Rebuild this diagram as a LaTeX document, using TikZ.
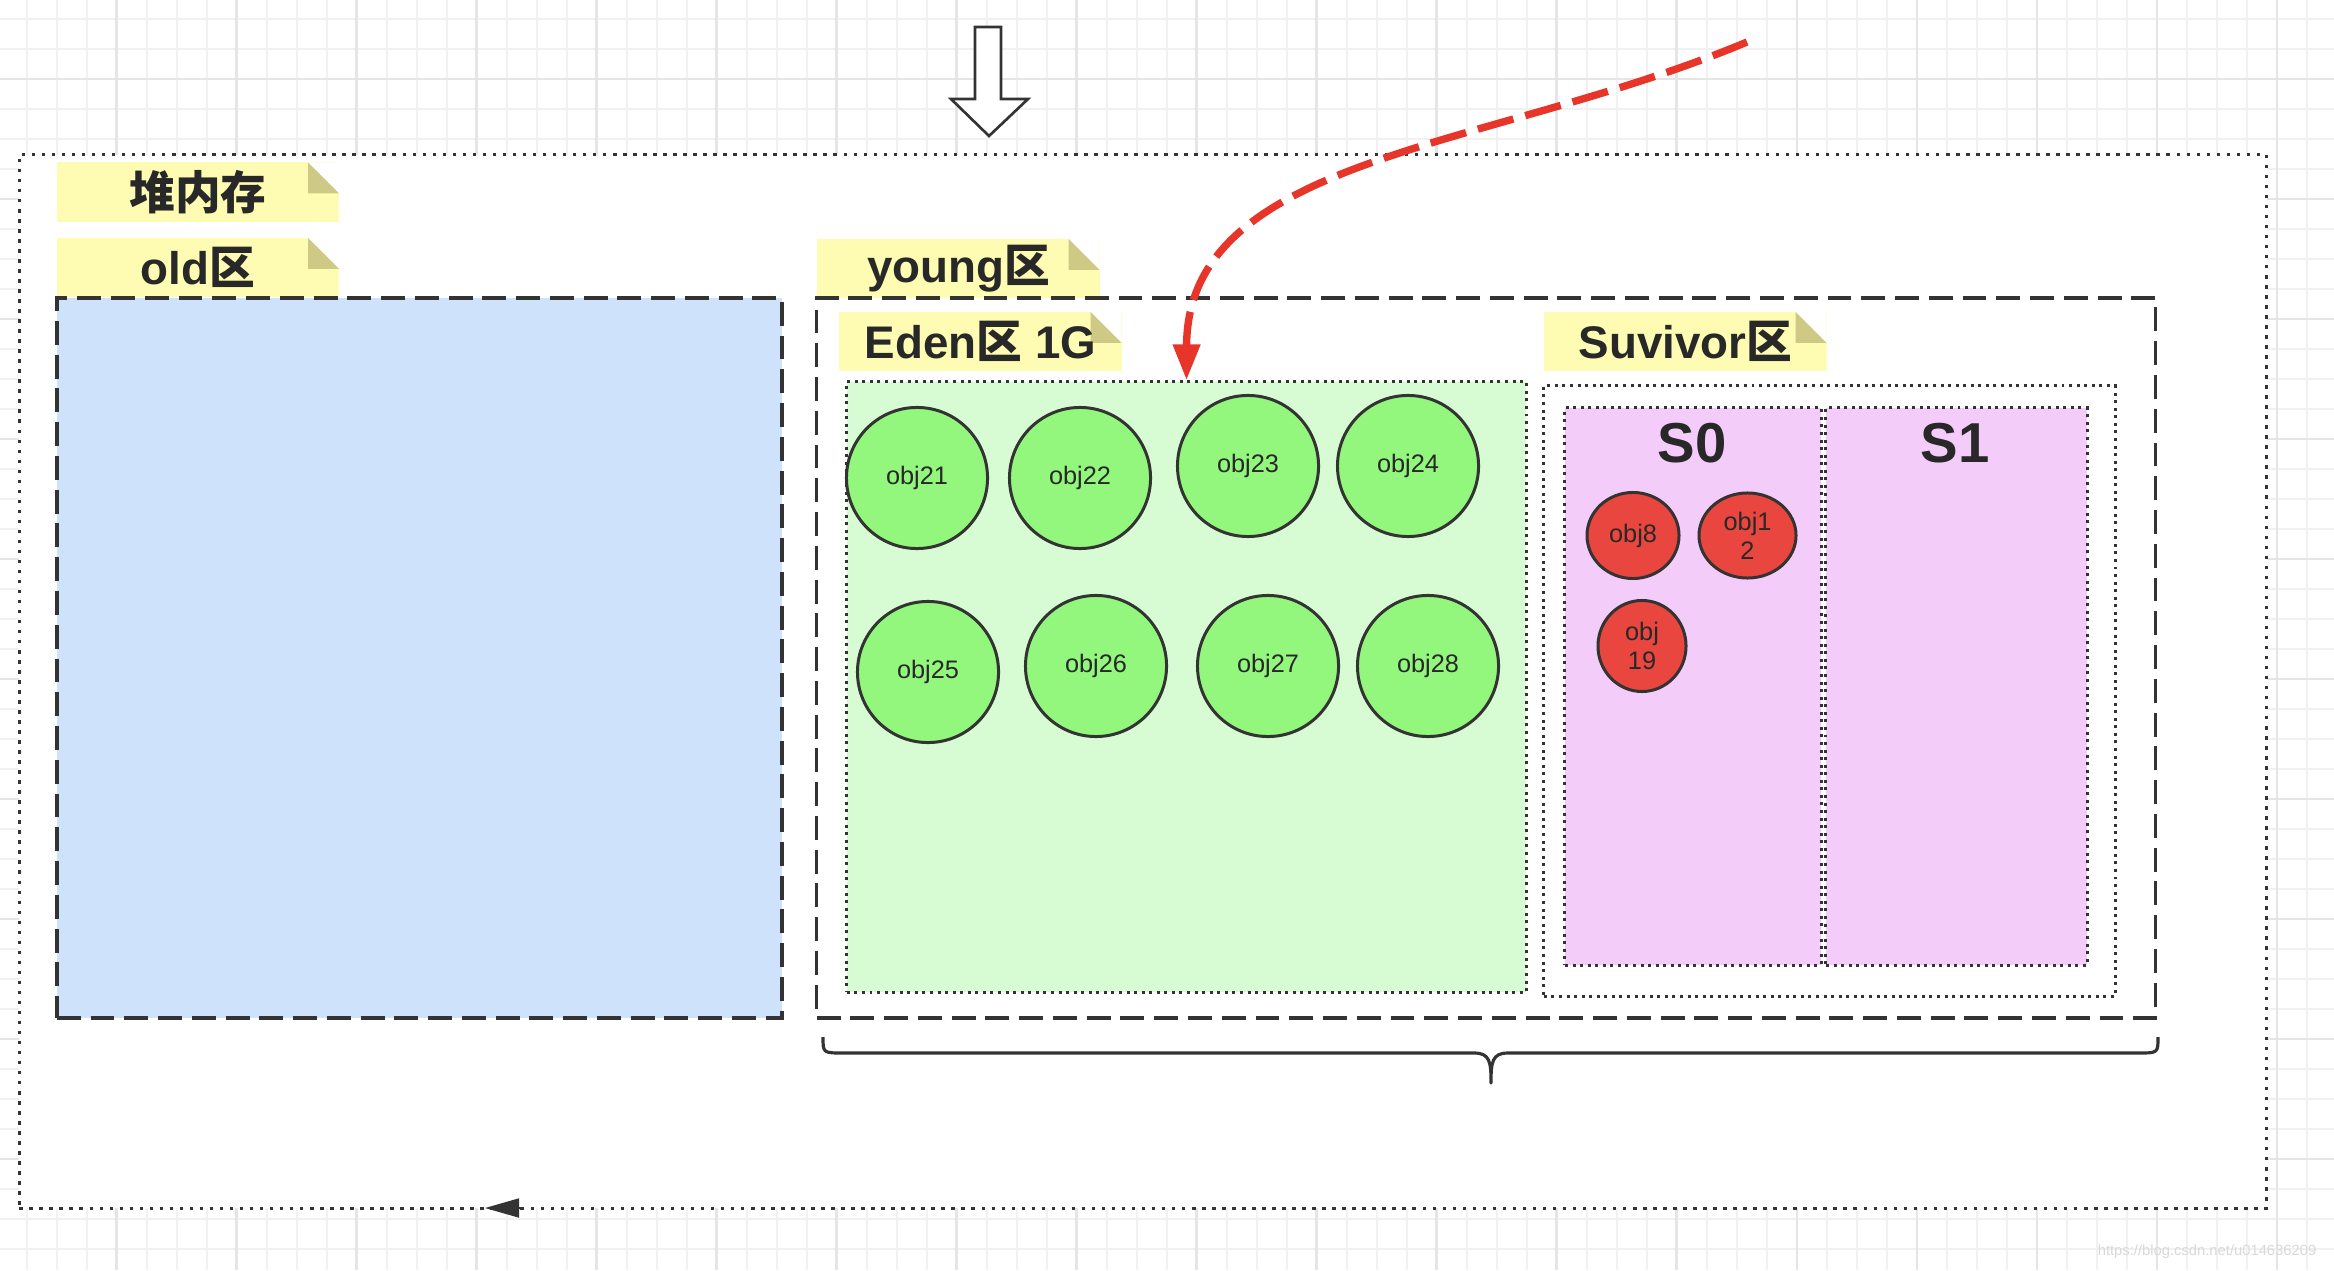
\documentclass[tikz,border=0pt]{standalone}
\usepackage{fontspec}
\setmainfont{Liberation Sans}
\newfontfamily\cjk{Noto Sans CJK SC}
\usetikzlibrary{arrows.meta,shapes.geometric}
\definecolor{linegray}{RGB}{51,51,51}
\definecolor{txt}{RGB}{40,40,40}
\definecolor{notey}{RGB}{253,252,178}
\definecolor{foldy}{RGB}{206,202,133}
\definecolor{oldblue}{RGB}{207,226,251}
\definecolor{edengreen}{RGB}{215,251,210}
\definecolor{surpink}{RGB}{244,204,249}
\definecolor{objgreen}{RGB}{146,247,124}
\definecolor{objred}{RGB}{232,70,62}
\definecolor{promred}{RGB}{232,53,42}
\definecolor{minorgrid}{RGB}{241,241,241}
\definecolor{majorgrid}{RGB}{229,229,229}

\begin{document}
\begin{tikzpicture}[x=0.01cm,y=-0.01cm]
	\tikzstyle{minor line}=[minorgrid,line width=0.5pt]
	\tikzstyle{major line}=[majorgrid,line width=0.7pt]
	\tikzstyle{heapbox}=[draw=linegray,fill=white,line width=1pt,dash pattern=on 1pt off 1.85pt,inner sep=0pt]
	\tikzstyle{genbox}=[draw=linegray,line width=1pt,dash pattern=on 6.8pt off 2.8pt,inner sep=0pt]
	\tikzstyle{spacebox}=[draw=linegray,line width=0.85pt,dash pattern=on 0.85pt off 1.3pt,inner sep=0pt]
	\tikzstyle{note}=[fill=notey,minimum width=2.82cm,minimum height=0.59cm,inner sep=0pt,text=txt,
		font=\fontsize{13}{15}\selectfont\bfseries,
		path picture={
			\fill[white] (path picture bounding box.north east) -- ++(-31,0) -- ++(31,31) -- cycle;
			\fill[foldy] (path picture bounding box.north east) ++(-31,0) -- ++(0,31) -- ++(31,0) -- cycle;
		}]
	\tikzstyle{youngobj}=[circle,draw=linegray,line width=0.85pt,fill=objgreen,minimum size=1.41cm,inner sep=0pt,text=txt,font=\fontsize{7.2}{8.3}\selectfont]
	\tikzstyle{oldobj}=[ellipse,draw=linegray,line width=0.85pt,fill=objred,inner sep=0pt,align=center,text=txt,font=\fontsize{7.2}{8.3}\selectfont]
	\tikzstyle{spacename}=[text=txt,font=\fontsize{16}{18}\selectfont\bfseries]
	\tikzstyle{promote}=[promred,line width=2.1pt,dash pattern=on 10.5pt off 3.5pt,-{Triangle[length=0.36cm,width=0.26cm]}]

	\useasboundingbox (0,0) rectangle (2334,1270);
	\fill[white] (0,0) rectangle (2334,1270);

	% background grid
	\foreach \i in {0,...,77} \draw[minor line] ({26.7+30*\i},0) -- ++(0,1270);
	\foreach \i in {0,...,42} \draw[minor line] (0,{19+30*\i}) -- ++(2334,0);
	\foreach \i in {0,...,18} \draw[major line] ({116.7+120*\i},0) -- ++(0,1270);
	\foreach \i in {0,...,9} \draw[major line] (0,{79+120*\i}) -- ++(2334,0);

	% heap
	\node[heapbox,minimum width=22.46cm,minimum height=10.53cm](heap) at (1143,681.5) {};
	\node[note](heapnote) at (198,192) {\cjk 堆内存};

	% old generation
	\node[note](oldnote) at (198,267.5) {old{\cjk 区}};
	\node[genbox,fill=oldblue,minimum width=7.25cm,minimum height=7.2cm](old) at (419.5,658) {};

	% young generation
	\node[note](youngnote) at (958.5,268.5) {young{\cjk 区}};
	\node[genbox,fill=white,minimum width=13.38cm,minimum height=7.2cm](young) at (1486,658) {};
	\node[note](edennote) at (980.5,341.5) {Eden{\cjk 区} 1G};
	\node[spacebox,fill=edengreen,minimum width=6.79cm,minimum height=6.1cm](eden) at (1186.5,687) {};
	\node[note](survnote) at (1685.5,341.5) {Suvivor{\cjk 区}};
	\node[spacebox,fill=white,minimum width=5.71cm,minimum height=6.1cm](surv) at (1829.5,691) {};
	\node[spacebox,fill=surpink,minimum width=2.56cm,minimum height=5.57cm](s0) at (1693,686.5) {};
	\node[spacebox,fill=surpink,minimum width=2.61cm,minimum height=5.57cm](s1) at (1956.5,686.5) {};
	\node[spacename](s0name) at (1692,443) {S0};
	\node[spacename](s1name) at (1955,443) {S1};

	% objects in eden
	\node[youngobj](o21) at (917,478) {obj21};
	\node[youngobj](o22) at (1080,478) {obj22};
	\node[youngobj](o23) at (1248,466) {obj23};
	\node[youngobj](o24) at (1408,466) {obj24};
	\node[youngobj](o25) at (928,672) {obj25};
	\node[youngobj](o26) at (1096,666) {obj26};
	\node[youngobj](o27) at (1268,666) {obj27};
	\node[youngobj](o28) at (1428,666) {obj28};

	% objects in S0
	\node[oldobj,minimum width=0.92cm,minimum height=0.86cm](o8) at (1633,535.5) {obj8};
	\node[oldobj,minimum width=0.97cm,minimum height=0.85cm](o12) at (1747.5,535.5) {obj1\\2};
	\node[oldobj,minimum width=0.88cm,minimum height=0.91cm](o19) at (1642,646) {obj\\19};

	% brace under young
	\coordinate (bl) at (823,1037);
	\coordinate (btip) at (1491,1083);
	\coordinate (br) at (2158,1037);
	\draw[linegray,line width=0.9pt,line join=round] (bl) .. controls (823,1053) .. (843,1053) -- (1474,1053)
		.. controls (1490,1053) and (1491,1062) .. (btip)
		.. controls (1491,1062) and (1492,1053) .. (1508,1053) -- (2138,1053) .. controls (2158,1053) .. (br);

	% small arrow tip on the heap border
	\coordinate (tipfrom) at (522,1208);
	\coordinate (tipto) at (485,1208);
	\draw[linegray,line width=0.5pt,-{Triangle[length=0.34cm,width=0.19cm]}] (tipfrom) -- (tipto);

	% hollow arrow into the heap
	\draw[linegray,line width=0.75pt,fill=white] (975,27) -- (1001,27) -- (1001,99) -- (1028,99) -- (989,136) -- (951,99) -- (975,99) -- cycle;

	% new objects go to eden
	\coordinate (newobj) at (1747,42);
	\draw[promote] (newobj) .. controls (1490,150) and (1187,155) .. (eden.north);

	\node[text=gray!30,font=\fontsize{4.2}{5}\selectfont](mark) at (2207,1252) {https://blog.csdn.net/u014636209};
\end{tikzpicture}
\end{document}
